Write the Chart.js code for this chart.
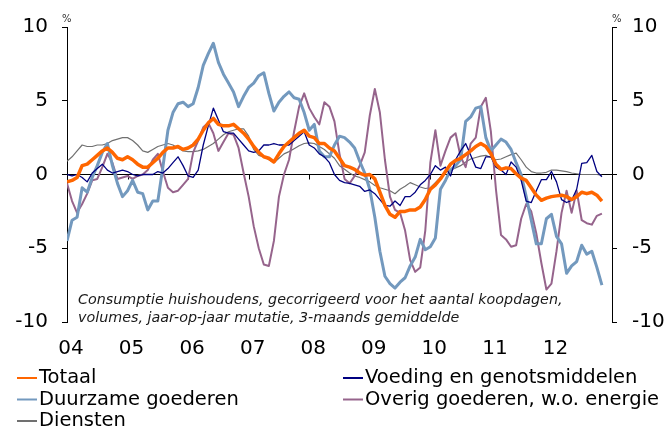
<!DOCTYPE html>
<html>
<head>
<meta charset="utf-8">
<script src="https://cdn.jsdelivr.net/npm/chart.js@4.4.1/dist/chart.umd.min.js"></script>
<style>
  html, body { margin: 0; padding: 0; background: #fff; }
</style>
</head>
<body>
<canvas id="chart" width="669" height="429"></canvas>
<script>
// maandcijfers jan 2004 - nov 2012, x = maanden sinds jan 2004
const yearLabels = ['04', '05', '06', '07', '08', '09', '10', '11', '12'];

const totaal = [
  -0.5, -0.4, -0.2, 0.6, 0.7, 1.0, 1.3, 1.6, 1.8, 1.5, 1.1, 1.0,
  1.2, 1.0, 0.7, 0.5, 0.5, 0.8, 1.1, 1.5, 1.8, 1.8, 1.9, 1.7,
  1.8, 2.0, 2.4, 3.0, 3.5, 3.8, 3.4, 3.3, 3.3, 3.4, 3.1, 2.8,
  2.4, 1.9, 1.5, 1.2, 1.1, 0.85, 1.4, 1.9, 2.2, 2.5, 2.8, 3.0,
  2.6, 2.5, 2.1, 2.1, 1.8, 1.6, 1.1, 0.6, 0.5, 0.35, 0.1, -0.05,
  0.0, -0.3, -1.2, -2.1, -2.7, -2.9, -2.5, -2.5, -2.4, -2.4, -2.2, -1.7,
  -1.0, -0.7, -0.3, 0.2, 0.7, 0.95, 1.1, 1.35, 1.6, 1.9, 2.1, 1.9,
  1.4, 0.7, 0.35, 0.45, 0.4, 0.05, -0.25, -0.4, -0.9, -1.4, -1.75, -1.6,
  -1.5, -1.45, -1.4, -1.5, -1.7, -1.5, -1.2, -1.3, -1.2, -1.4, -1.8
];
const voeding = [
  0.0, -0.1, 0.0, -0.2, -0.5, 0.1, 0.4, 0.7, 0.3, 0.1, 0.2, 0.3,
  0.2, 0.0, -0.1, 0.0, 0.0, 0.0, 0.2, 0.1, 0.4, 0.8, 1.2, 0.6,
  -0.1, -0.2, 0.3, 2.0, 3.3, 4.5, 3.7, 2.9, 2.8, 2.8, 2.4, 2.0,
  1.6, 1.5, 1.6, 2.0, 2.0, 2.1, 2.0, 2.0, 2.0, 2.3, 2.6, 2.9,
  2.0, 1.8, 1.4, 1.2, 0.8, 0.0, -0.4, -0.55, -0.6, -0.7, -0.8, -1.15,
  -1.05, -1.3, -1.7, -2.1, -2.15, -1.8, -2.1, -1.5, -1.5, -1.2, -0.7, -0.4,
  0.0, 0.6, 0.3, 0.5, -0.1, 1.0, 1.6, 2.1, 1.3, 0.5, 0.4, 1.2,
  1.2, 0.5, 0.3, 0.0, 0.85, 0.5, -0.4, -1.8, -1.9, -1.1, -0.35, -0.35,
  0.2, -0.5, -1.7, -1.9, -1.75, -1.0, 0.75, 0.8, 1.3, 0.2, -0.15
];
const duurzaam = [
  -4.5, -3.1, -2.9, -0.9, -1.2, -0.2, 0.6, 1.5, 2.1, 0.6, -0.6, -1.5,
  -1.1, -0.4, -1.2, -1.3, -2.4, -1.8, -1.8, 0.5, 3.0, 4.2, 4.8, 4.9,
  4.6, 4.8, 5.9, 7.4, 8.2, 8.9, 7.6, 6.8, 6.2, 5.6, 4.6, 5.3,
  5.9, 6.2, 6.7, 6.9, 5.5, 4.3, 4.9, 5.3, 5.6, 5.2, 5.1, 4.2,
  3.0, 3.4, 1.6, 1.2, 1.2, 2.0, 2.6, 2.5, 2.2, 1.8, 0.9, 0.1,
  -1.0, -2.9, -5.2, -6.9, -7.4, -7.7, -7.3, -7.0, -6.2, -5.6, -4.4, -5.1,
  -4.9, -4.3, -1.0, -0.4, 0.3, 0.6, 1.0, 3.6, 3.9, 4.5, 4.6, 2.5,
  1.6, 2.0, 2.4, 2.2, 1.7, 0.8, 0.0, -1.5, -3.1, -4.7, -4.7, -3.0,
  -2.7, -4.2, -4.7, -6.7, -6.2, -5.9, -4.8, -5.4, -5.2, -6.3, -7.5
];
const overig = [
  -0.6, -1.8, -2.6, -2.0, -1.3, -0.4, -0.3, 0.5, 1.4, 0.8, -0.3, -0.2,
  -0.1, -0.3, -0.1, 0.0, 0.3, 1.0, 1.4, 0.2, -0.9, -1.2, -1.1, -0.7,
  -0.3, 1.5, 2.3, 3.2, 3.5, 2.8, 1.6, 2.2, 2.8, 2.7, 1.8, 0.1,
  -1.5, -3.5, -5.0, -6.1, -6.2, -4.5, -1.5, 0.0, 1.0, 2.9, 4.6, 5.5,
  4.5, 3.9, 3.4, 4.9, 4.6, 3.6, 1.4, -0.3, -0.6, -0.1, 0.6, 1.5,
  4.0, 5.8, 4.2, 1.0, -1.5, -2.4, -2.6, -3.8, -5.8, -6.6, -6.3, -3.8,
  0.8, 3.0, 0.6, 1.6, 2.5, 2.8, 1.2, 0.5, 2.1, 2.5, 4.6, 5.2,
  2.9, -1.0, -4.1, -4.4, -4.9, -4.8, -3.0, -2.0, -2.5, -4.0, -6.0, -7.8,
  -7.4, -5.2, -2.6, -1.1, -2.6, -1.1, -3.1, -3.3, -3.4, -2.8, -2.65
];
const diensten = [
  0.9, 1.2, 1.6, 2.0, 1.9, 1.9, 2.0, 2.0, 2.1, 2.3, 2.4, 2.5,
  2.5, 2.3, 2.0, 1.6, 1.5, 1.7, 1.9, 2.0, 2.1, 2.0, 1.8, 1.6,
  1.55, 1.55, 1.6, 1.7, 1.9, 2.1, 2.4, 2.7, 2.9, 3.0, 3.1, 3.1,
  2.6, 1.7, 1.3, 1.2, 1.0, 0.8, 1.1, 1.4, 1.55, 1.75, 1.95, 2.1,
  2.15, 2.1, 1.9, 1.7, 1.4, 1.1, 0.6, 0.35, 0.1, -0.1, -0.2, -0.35,
  -0.5, -0.75, -0.9, -1.0, -1.1, -1.3, -1.0, -0.8, -0.55, -0.7, -0.85, -0.95,
  -0.9, -0.55, -0.2, 0.15, 0.3, 0.45, 0.6, 0.85, 1.05, 1.15, 1.25, 1.3,
  1.15, 1.0, 1.05, 1.2, 1.35, 1.45, 1.0, 0.5, 0.2, 0.1, 0.1, 0.15,
  0.3, 0.3, 0.25, 0.2, 0.1, 0.05, 0.0, 0.0, 0.0, 0.0, -0.05
];

const note = [
  'Consumptie huishoudens, gecorrigeerd voor het aantal koopdagen,',
  'volumes, jaar-op-jaar mutatie, 3-maands gemiddelde'
];

const FONT = '"DejaVu Sans", Verdana, sans-serif';
const toPoints = arr => arr.map((v, i) => ({ x: i, y: v }));

const series = [
  { label: 'Totaal', data: totaal, color: '#ff6600', width: 3.5 },
  { label: 'Voeding en genotsmiddelen', data: voeding, color: '#000080', width: 1.3 },
  { label: 'Duurzame goederen', data: duurzaam, color: '#7399be', width: 3 },
  { label: 'Overig goederen, w.o. energie', data: overig, color: '#96648c', width: 2 },
  { label: 'Diensten', data: diensten, color: '#707070', width: 1.2 }
];

// legend slots: [x, y] for each series
const legendPos = [[17, 378], [343, 378], [17, 399.5], [343, 399.5], [17, 421]];

const extras = {
  id: 'extras',
  beforeDatasetsDraw(chart) {
    const { ctx, scales: { x, y } } = chart;
    const y0 = y.getPixelForValue(0);
    ctx.save();
    ctx.strokeStyle = '#000';
    ctx.lineWidth = 1;
    x.ticks.forEach(t => {
      const px = Math.round(x.getPixelForValue(t.value)) + 0.5;
      ctx.beginPath();
      ctx.moveTo(px, y0);
      ctx.lineTo(px, y0 + 5);
      ctx.stroke();
    });
    ctx.restore();
  },
  afterDraw(chart) {
    const { ctx, chartArea } = chart;
    ctx.save();
    ctx.fillStyle = '#333';
    ctx.font = '10px ' + FONT;
    ctx.fillText('%', chartArea.left - 5, chartArea.top - 5);
    ctx.fillText('%', chartArea.right, chartArea.top - 5);

    ctx.fillStyle = '#1a1a1a';
    ctx.font = 'italic 14.3px ' + FONT;
    ctx.textBaseline = 'middle';
    note.forEach((line, i) => ctx.fillText(line, 78, 300 + i * 18));

    ctx.font = '19.5px ' + FONT;
    chart.data.datasets.forEach((ds, i) => {
      const [lx, ly] = legendPos[i];
      ctx.strokeStyle = ds.borderColor;
      ctx.lineWidth = 2;
      ctx.beginPath();
      ctx.moveTo(lx, ly);
      ctx.lineTo(lx + 20, ly);
      ctx.stroke();
      ctx.fillStyle = '#000';
      ctx.fillText(ds.label, lx + 22, ly);
    });
    ctx.restore();
  }
};

new Chart(document.getElementById('chart'), {
  type: 'line',
  data: {
    datasets: series.map(s => ({
      label: s.label,
      data: toPoints(s.data),
      borderColor: s.color,
      backgroundColor: s.color,
      borderWidth: s.width,
      pointRadius: 0,
      tension: 0,
      borderJoinStyle: 'round'
    }))
  },
  options: {
    responsive: false,
    animation: false,
    layout: { padding: { top: 27, bottom: 67, left: 0, right: 0 } },
    plugins: { legend: { display: false }, tooltip: { enabled: false } },
    scales: {
      x: {
        type: 'linear',
        min: 0,
        max: 108,
        grid: { display: false, drawTicks: false },
        border: { display: false },
        ticks: {
          stepSize: 12,
          autoSkip: false,
          maxRotation: 0,
          padding: 15,
          labelOffset: 4,
          color: '#000',
          font: { family: FONT, size: 20 },
          callback: v => yearLabels[v / 12] || ''
        },
        afterFit: s => { s.height = 40; }
      },
      y: {
        position: 'left',
        min: -10,
        max: 10,
        grid: {
          color: c => (c.tick && c.tick.value === 0 ? '#000' : 'rgba(0,0,0,0)'),
          tickColor: '#000',
          tickLength: 5,
          lineWidth: 1
        },
        border: { display: true, color: '#000', width: 1 },
        ticks: {
          stepSize: 5,
          padding: 14,
          color: '#000',
          font: { family: FONT, size: 20 }
        },
        afterFit: s => { s.width = 67; }
      },
      y2: {
        position: 'right',
        min: -10,
        max: 10,
        grid: { drawOnChartArea: false, color: '#000', tickLength: 5 },
        border: { display: true, color: '#000', width: 1 },
        ticks: {
          stepSize: 5,
          padding: 15,
          color: '#000',
          font: { family: FONT, size: 20 }
        },
        afterFit: s => { s.width = 57; }
      }
    }
  },
  plugins: [extras]
});
</script>
</body>
</html>
